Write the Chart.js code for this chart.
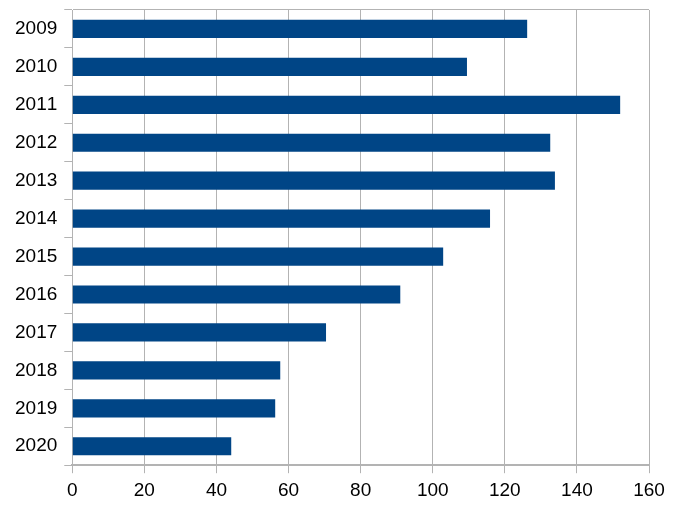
<!DOCTYPE html>
<html>
<head>
<meta charset="utf-8">
<script src="https://cdn.jsdelivr.net/npm/chart.js@4/dist/chart.umd.min.js"></script>
<style>
  html, body { margin: 0; padding: 0; background: #fff; }
  #wrap { width: 679px; height: 511px; position: relative; }
</style>
</head>
<body>
<div id="wrap"><canvas id="myChart"></canvas></div>
<script>
// data
const years = ['2009', '2010', '2011', '2012', '2013', '2014', '2015', '2016', '2017', '2018', '2019', '2020'];
const counts = [126.2, 109.5, 152.0, 132.6, 133.9, 115.9, 102.9, 91.0, 70.4, 57.7, 56.3, 44.1];
const xTicks = [0, 20, 40, 60, 80, 100, 120, 140, 160];

const barBlue = '#004586';
const gridGrey = '#b3b3b3';

Chart.defaults.font.family = '"Liberation Sans", Arial, sans-serif';
Chart.defaults.color = '#000';

// the original labels have no "11" kerning
const noKerning = {
    id: 'noKerning',
    beforeDraw: chart => { chart.ctx.fontKerning = 'none'; }
};

const ctx = document.getElementById('myChart').getContext('2d');
new Chart(ctx, {
    type: 'bar',
    data: {
        labels: years,
        datasets: [{
            data: counts,
            backgroundColor: barBlue,
            borderWidth: 0,
            barPercentage: 0.6,
            categoryPercentage: 0.8
        }]
    },
    options: {
        indexAxis: 'y',
        responsive: true,
        maintainAspectRatio: false,
        animation: false,
        layout: { padding: { left: 8, right: 30, top: 10, bottom: 3 } },
        plugins: {
            legend: { display: false },
            tooltip: { enabled: false }
        },
        scales: {
            x: {
                min: xTicks[0],
                max: xTicks[xTicks.length - 1],
                afterBuildTicks: axis => { axis.ticks = xTicks.map(v => ({ value: v })); },
                afterFit: s => { s.paddingLeft = 0; s.paddingRight = 0; },
                ticks: { font: { size: 19 }, padding: 6 },
                grid: { color: gridGrey, tickColor: gridGrey, tickLength: 8, lineWidth: 1 },
                border: { color: gridGrey, width: 2 }
            },
            y: {
                afterFit: s => { s.paddingTop = 0; s.paddingBottom = 0; },
                ticks: { font: { size: 19 }, padding: 7 },
                grid: {
                    offset: true,
                    // only the top boundary spans the plot; the rest are outside ticks
                    color: c => c.index === 0 ? gridGrey : 'rgba(0,0,0,0)',
                    tickColor: gridGrey,
                    tickLength: 8
                },
                border: { color: gridGrey, width: 1 }
            }
        }
    },
    plugins: [noKerning]
});
</script>
</body>
</html>
